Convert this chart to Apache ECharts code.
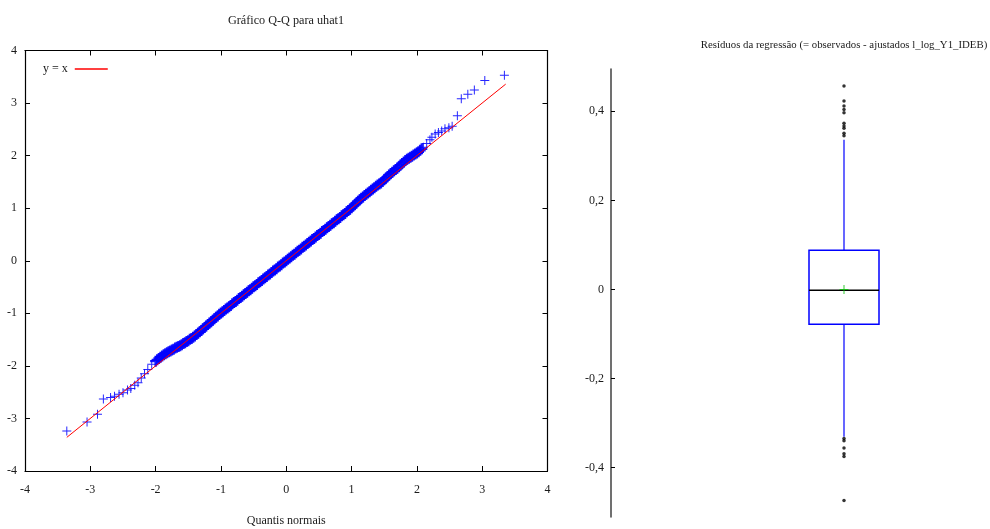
<!DOCTYPE html>
<html>
<head>
<meta charset="utf-8">
<script src="https://cdn.jsdelivr.net/npm/echarts@6/dist/echarts.min.js"></script>
<style>
html,body{margin:0;padding:0;background:#fff;}
#c{width:990px;height:529px;}
</style>
</head>
<body>
<div id="c"></div>
<script>
// ---- Q-Q plot: lower tail points ----
const tailLowX = [-3.36, -3.05, -2.89, -2.80, -2.69, -2.63, -2.56, -2.50, -2.43, -2.38, -2.32, -2.27, -2.22, -2.17, -2.12, -2.06];
const tailLowY = [-3.24, -3.07, -2.92, -2.63, -2.60, -2.58, -2.54, -2.51, -2.46, -2.43, -2.37, -2.32, -2.23, -2.15, -2.07, -1.97];

// ---- Q-Q plot: dense central band ----
const bandX = [
  -2.000, -1.975, -1.950, -1.925, -1.900, -1.875, -1.850, -1.825, -1.800, -1.775, -1.750, -1.725, -1.700, -1.675, -1.650, -1.625,
  -1.600, -1.575, -1.550, -1.525, -1.500, -1.475, -1.450, -1.425, -1.400, -1.375, -1.350, -1.325, -1.300, -1.275, -1.250, -1.225,
  -1.200, -1.175, -1.150, -1.125, -1.100, -1.075, -1.050, -1.025, -1.000, -0.975, -0.950, -0.925, -0.900, -0.875, -0.850, -0.825,
  -0.800, -0.775, -0.750, -0.725, -0.700, -0.675, -0.650, -0.625, -0.600, -0.575, -0.550, -0.525, -0.500, -0.475, -0.450, -0.425,
  -0.400, -0.375, -0.350, -0.325, -0.300, -0.275, -0.250, -0.225, -0.200, -0.175, -0.150, -0.125, -0.100, -0.075, -0.050, -0.025,
  0.000, 0.025, 0.050, 0.075, 0.100, 0.125, 0.150, 0.175, 0.200, 0.225, 0.250, 0.275, 0.300, 0.325, 0.350, 0.375,
  0.400, 0.425, 0.450, 0.475, 0.500, 0.525, 0.550, 0.575, 0.600, 0.625, 0.650, 0.675, 0.700, 0.725, 0.750, 0.775,
  0.800, 0.825, 0.850, 0.875, 0.900, 0.925, 0.950, 0.975, 1.000, 1.025, 1.050, 1.075, 1.100, 1.125, 1.150, 1.175,
  1.200, 1.225, 1.250, 1.275, 1.300, 1.325, 1.350, 1.375, 1.400, 1.425, 1.450, 1.475, 1.500, 1.525, 1.550, 1.575,
  1.600, 1.625, 1.650, 1.675, 1.700, 1.725, 1.750, 1.775, 1.800, 1.825, 1.850, 1.875, 1.900, 1.925, 1.950, 1.975,
  2.000, 2.025, 2.050, 2.075
];
const bandY = [
  -1.910, -1.885, -1.860, -1.835, -1.810, -1.790, -1.770, -1.750, -1.730, -1.715, -1.700, -1.685, -1.660, -1.645, -1.630, -1.615,
  -1.600, -1.575, -1.560, -1.535, -1.520, -1.495, -1.480, -1.455, -1.430, -1.405, -1.380, -1.350, -1.325, -1.295, -1.270, -1.240,
  -1.215, -1.185, -1.160, -1.130, -1.105, -1.075, -1.050, -1.020, -0.995, -0.970, -0.945, -0.920, -0.900, -0.875, -0.850, -0.820,
  -0.795, -0.775, -0.750, -0.720, -0.700, -0.675, -0.645, -0.625, -0.600, -0.570, -0.550, -0.525, -0.495, -0.475, -0.450, -0.420,
  -0.400, -0.375, -0.345, -0.325, -0.300, -0.270, -0.250, -0.225, -0.195, -0.175, -0.150, -0.120, -0.100, -0.075, -0.045, -0.025,
  0.000, 0.030, 0.050, 0.075, 0.105, 0.125, 0.150, 0.180, 0.200, 0.225, 0.255, 0.275, 0.300, 0.330, 0.350, 0.375,
  0.405, 0.425, 0.450, 0.480, 0.500, 0.525, 0.555, 0.575, 0.600, 0.630, 0.650, 0.675, 0.705, 0.725, 0.750, 0.780,
  0.800, 0.825, 0.855, 0.875, 0.900, 0.930, 0.955, 0.980, 1.010, 1.040, 1.070, 1.100, 1.130, 1.160, 1.190, 1.215,
  1.240, 1.265, 1.290, 1.315, 1.340, 1.365, 1.390, 1.415, 1.440, 1.460, 1.480, 1.510, 1.540, 1.570, 1.600, 1.630,
  1.660, 1.685, 1.710, 1.735, 1.760, 1.790, 1.820, 1.850, 1.880, 1.905, 1.930, 1.950, 1.970, 1.990, 2.010, 2.030,
  2.050, 2.075, 2.100, 2.130
];

// ---- Q-Q plot: upper tail points ----
const tailHighX = [2.10, 2.15, 2.20, 2.23, 2.28, 2.33, 2.38, 2.43, 2.49, 2.54, 2.62, 2.68, 2.78, 2.88, 3.04, 3.34];
const tailHighY = [2.16, 2.23, 2.30, 2.35, 2.41, 2.44, 2.47, 2.51, 2.53, 2.56, 2.76, 3.08, 3.17, 3.25, 3.43, 3.53];

const refLine = [-3.36, 3.36];          // y = x reference line extent

// ---- Box plot of residuals ----
const boxLabel = ['uhat1'];
const lowerWhisker = -0.331;
const q1 = -0.078;
const median = -0.002;
const q3 = 0.088;
const upperWhisker = 0.336;
const meanValue = 0.0;
const upperOutliers = [0.457, 0.423, 0.412, 0.404, 0.397, 0.373, 0.367, 0.362, 0.351, 0.345];
const lowerOutliers = [-0.335, -0.340, -0.356, -0.369, -0.375, -0.474];
const boxTicks = [-0.4, -0.2, 0, 0.2, 0.4];

const FONT = 'Liberation Serif';
const TXT = '#1a1a1a';
const plusPath = 'path://M4,0h1v9h-1zM0,4h9v1h-9z';
const plusBold = 'path://M4.3,0h2.4v11h-2.4zM0,4.3h11v2.4h-11z';

const tailX = tailLowX.concat(tailHighX);
const tailY = tailLowY.concat(tailHighY);

const chart = echarts.init(document.getElementById('c'), null, {renderer: 'canvas'});

const qqAxisCommon = {
  type: 'value', min: -4, max: 4, interval: 1,
  axisLine: {show: true, onZero: false, lineStyle: {color: '#000', width: 1.2}},
  axisTick: {show: true, inside: true, length: 5, lineStyle: {color: '#000', width: 1}},
  splitLine: {show: false}
};

const option = {
  backgroundColor: '#fff',
  animation: false,
  textStyle: {fontFamily: FONT},
  title: [
    {text: 'Gráfico Q-Q para uhat1', left: 281, top: 10, textAlign: 'center',
     textStyle: {fontFamily: FONT, fontSize: 12.2, fontWeight: 'normal', color: TXT}},
    {text: 'Resíduos da regressão (= observados - ajustados l_log_Y1_IDEB)', left: 839, top: 35, textAlign: 'center',
     textStyle: {fontFamily: FONT, fontSize: 10.8, fontWeight: 'normal', color: TXT}}
  ],
  legend: {
    data: [{name: 'y = x', icon: 'rect'}],
    left: 38, top: 58, align: 'right', itemWidth: 33, itemHeight: 1.5, itemGap: 6,
    textStyle: {fontFamily: FONT, fontSize: 12, color: TXT, padding: [0, 2, 0, 0]},
    selectedMode: false
  },
  grid: [
    {left: 25, right: 442.5, top: 50.5, bottom: 58, outerBoundsMode: 'none', containLabel: false},
    {left: 611, width: 466, top: 69, bottom: 12, outerBoundsMode: 'none', containLabel: false}
  ],
  xAxis: [
    Object.assign({}, qqAxisCommon, {
      gridIndex: 0, position: 'bottom',
      name: 'Quantis normais', nameLocation: 'middle', nameGap: 44,
      nameTextStyle: {fontFamily: FONT, fontSize: 12, color: TXT},
      axisLabel: {show: true, margin: 13, fontFamily: FONT, fontSize: 12, color: TXT}
    }),
    Object.assign({}, qqAxisCommon, {gridIndex: 0, position: 'top', axisLabel: {show: false}}),
    {type: 'category', gridIndex: 1, data: boxLabel, show: false}
  ],
  yAxis: [
    Object.assign({}, qqAxisCommon, {
      gridIndex: 0, position: 'left',
      axisLabel: {show: true, margin: 8, fontFamily: FONT, fontSize: 12, color: TXT}
    }),
    Object.assign({}, qqAxisCommon, {gridIndex: 0, position: 'right', axisLabel: {show: false}}),
    {
      type: 'value', gridIndex: 1, min: -0.511, max: 0.495, position: 'left',
      axisLine: {show: true, onZero: false, lineStyle: {color: '#404040', width: 1.5}},
      axisTick: {show: true, inside: true, length: 4, customValues: boxTicks, lineStyle: {color: '#000'}},
      axisLabel: {show: true, margin: 7, customValues: boxTicks, fontFamily: FONT, fontSize: 12, color: TXT,
        formatter: v => String(Math.round(v * 10) / 10).replace('.', ',')},
      splitLine: {show: false}
    }
  ],
  series: [
    {
      name: 'uhat1', type: 'scatter', xAxisIndex: 0, yAxisIndex: 0,
      data: bandX.map((x, i) => [x, bandY[i]]),
      symbol: plusBold, symbolSize: 11,
      itemStyle: {color: '#0000ff', opacity: 0.9},
      z: 2
    },
    {
      name: 'uhat1', type: 'scatter', xAxisIndex: 0, yAxisIndex: 0,
      data: tailX.map((x, i) => [x, tailY[i]]),
      symbol: plusPath, symbolSize: 9,
      itemStyle: {color: '#0000ff', opacity: 0.85},
      z: 2
    },
    {
      name: 'y = x', type: 'line', xAxisIndex: 0, yAxisIndex: 0,
      data: refLine.map(v => [v, v]),
      showSymbol: false, symbol: 'none',
      lineStyle: {color: '#ff0000', width: 1},
      itemStyle: {color: '#ff0000'},
      z: 3
    },
    {
      type: 'custom', xAxisIndex: 2, yAxisIndex: 2,
      data: [[0, lowerWhisker, q1, median, q3, upperWhisker]],
      renderItem: function (params, api) {
        const pLow = api.coord([api.value(0), api.value(1)]);
        const pQ1 = api.coord([api.value(0), api.value(2)]);
        const pMed = api.coord([api.value(0), api.value(3)]);
        const pQ3 = api.coord([api.value(0), api.value(4)]);
        const pUp = api.coord([api.value(0), api.value(5)]);
        const cx = pQ1[0];
        const half = 35;
        return {
          type: 'group',
          children: [
            {type: 'line', shape: {x1: cx, y1: pLow[1], x2: cx, y2: pQ1[1]}, style: {stroke: '#0000ff', lineWidth: 1.2}},
            {type: 'line', shape: {x1: cx, y1: pQ3[1], x2: cx, y2: pUp[1]}, style: {stroke: '#0000ff', lineWidth: 1.2}},
            {type: 'rect', shape: {x: cx - half, y: pQ3[1], width: 2 * half, height: pQ1[1] - pQ3[1]},
             style: {fill: 'none', stroke: '#0000ff', lineWidth: 1.5}},
            {type: 'line', shape: {x1: cx - half, y1: pMed[1], x2: cx + half, y2: pMed[1]}, style: {stroke: '#000', lineWidth: 1.5}}
          ]
        };
      },
      z: 2
    },
    {
      type: 'scatter', xAxisIndex: 2, yAxisIndex: 2,
      data: upperOutliers.concat(lowerOutliers).map(v => [0, v]),
      symbol: 'circle', symbolSize: 3.5,
      itemStyle: {color: '#000'}, z: 3
    },
    {
      type: 'scatter', xAxisIndex: 2, yAxisIndex: 2,
      data: [[0, meanValue]],
      symbol: plusPath, symbolSize: 9,
      itemStyle: {color: '#00c000'}, z: 4
    }
  ]
};
chart.setOption(option);
</script>
</body>
</html>
